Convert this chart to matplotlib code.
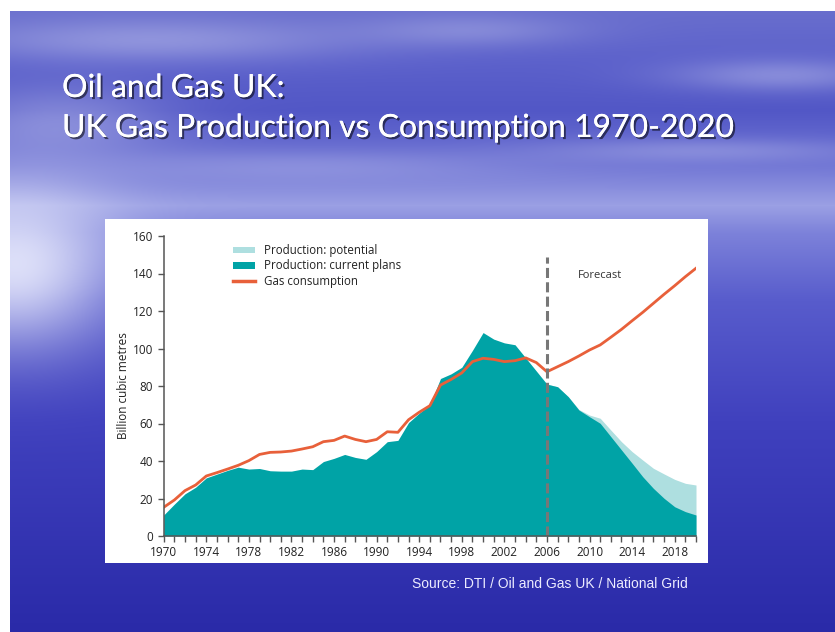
import numpy as np
import matplotlib
matplotlib.use("Agg")
import matplotlib.pyplot as plt
import matplotlib.patheffects as pe
from matplotlib.patches import Patch
from matplotlib.lines import Line2D
from matplotlib.ticker import MultipleLocator

years = list(range(1970, 2021))

production_current = [
    11.2, 17.0, 22.5, 26.0, 31.0, 33.0, 35.0, 36.7, 35.7, 36.0,
    34.8, 34.6, 34.6, 35.7, 35.4, 39.7, 41.4, 43.5, 41.9, 40.9,
    45.0, 50.3, 51.0, 60.5, 65.5, 70.0, 84.0, 86.5, 90.0, 99.0,
    108.5, 105.0, 103.0, 102.0, 95.0, 88.0, 81.0, 79.6, 74.3, 67.2,
    63.6, 60.1, 53.0, 45.9, 38.8, 31.6, 25.4, 20.1, 15.6, 13.0,
    11.2,
]

potential_years = list(range(2006, 2021))
production_potential = [
    81.0, 79.6, 74.3, 67.5, 64.5, 62.8, 56.5, 50.3, 45.0, 40.5,
    36.1, 33.1, 30.2, 28.1, 27.2,
]

consumption = [
    15.3, 19.2, 24.2, 27.2, 32.0, 33.8, 35.7, 37.7, 40.2, 43.5,
    44.6, 44.8, 45.3, 46.4, 47.6, 50.3, 51.0, 53.3, 51.5, 50.3,
    51.5, 55.6, 55.3, 62.0, 66.0, 69.5, 80.5, 83.5, 87.0, 93.0,
    94.8, 94.2, 93.0, 93.5, 95.0, 92.5, 87.6, 90.3, 93.0, 96.0,
    99.2, 101.9, 106.0, 110.2, 114.8, 119.3, 124.1, 128.9, 133.5, 138.3,
    142.8,
]

forecast_year = 2006
label_years = list(range(1970, 2021, 4))

W, H = 835, 632
fig = plt.figure(figsize=(W / 100, H / 100), dpi=100)
fig.patch.set_facecolor("white")

# slide background (sky over sea)
bx0, by0 = 10, 11
bw, bh = W - bx0, H - by0
yy, xx = np.mgrid[by0:H, bx0:W].astype(float)
knots_y = [11, 60, 110, 165, 205, 232, 300, 420, 632]
knots_c = np.array([
    [105, 110, 205], [92, 97, 203], [82, 87, 198], [112, 117, 212],
    [155, 160, 228], [125, 130, 218], [88, 92, 204], [64, 65, 190],
    [42, 42, 168],
])
img = np.zeros((bh, bw, 3))
for k in range(3):
    img[..., k] = np.interp(yy, knots_y, knots_c[:, k])
glows = [
    (15, 265, 100, 80, 0.85),
    (150, 40, 200, 22, 0.32),
    (470, 30, 110, 16, 0.22),
    (780, 75, 110, 16, 0.30),
    (700, 150, 160, 12, 0.22),
    (300, 165, 220, 15, 0.20),
    (60, 120, 110, 35, 0.30),
]
for gx, gy, sx, sy, a in glows:
    g = a * np.exp(-((xx - gx) / sx) ** 2 - ((yy - gy) / sy) ** 2)
    img = img + (np.array([240, 242, 255]) - img) * g[..., None]
bg = fig.add_axes([bx0 / W, 0, bw / W, bh / H])
bg.imshow(img / 255.0, aspect="auto", interpolation="bilinear")
bg.axis("off")

# title
shadow = [pe.withSimplePatchShadow(offset=(1.5, -1.5), shadow_rgbFace="black", alpha=0.55), pe.Normal()]
fig.text(62 / W, 1 - 97 / H, "Oil and Gas UK:", color="white", fontsize=23,
         family="Lato", va="baseline", path_effects=shadow)
fig.text(62 / W, 1 - 137 / H, "UK Gas Production vs Consumption 1970-2020", color="white",
         fontsize=23, family="Lato", va="baseline", path_effects=shadow)

fig.text(412 / W, 1 - 584 / H, "Source: DTI / Oil and Gas UK / National Grid",
         color="#ECECFF", fontsize=10, family="Liberation Sans", va="center")

# white panel holding the chart
panel = fig.add_axes([105 / W, 1 - 563 / H, 603 / W, 344 / H])
panel.set_facecolor("white")
panel.set_xticks([])
panel.set_yticks([])
for s in panel.spines.values():
    s.set_visible(False)

ax = fig.add_axes([163.7 / W, 1 - 536 / H, (696 - 163.7) / W, 300 / H])
ax.patch.set_alpha(0)

teal = "#00A3A6"
light = "#AEDFE0"
orange = "#E8603A"
font = "Open Sans"

ax.fill_between(potential_years, 0, production_potential, color=light, lw=0)
ax.fill_between(years, 0, production_current, color=teal, lw=0)
ax.plot(years, consumption, color=orange, lw=2)
ax.vlines(forecast_year, 0, 149, color="#777777", lw=2.2, linestyles=(0, (3.3, 1.4)))
ax.text(2008.9, 139, "Forecast", fontsize=8, family=font, color="#333333", va="center")

ax.set_xlim(1970, 2020)
ax.set_ylim(0, 160)
ax.set_xticks(label_years)
ax.xaxis.set_minor_locator(MultipleLocator(1))
ax.yaxis.set_major_locator(MultipleLocator(20))
for s in ("top", "right"):
    ax.spines[s].set_visible(False)
for s in ("left", "bottom"):
    ax.spines[s].set_color("#555555")
    ax.spines[s].set_linewidth(1.1)
ax.tick_params(which="both", direction="out", length=4, width=1, color="#555555",
               labelsize=8.5, labelcolor="#222222")
for lab in ax.get_xticklabels() + ax.get_yticklabels():
    lab.set_family(font)
ax.set_ylabel("Billion cubic metres", fontsize=8.5, family=font, color="#222222", labelpad=2)

handles = [
    Patch(facecolor=light, edgecolor="none"),
    Patch(facecolor=teal, edgecolor="none"),
    Line2D([], [], color=orange, lw=2.5),
]
labels = ["Production: potential", "Production: current plans", "Gas consumption"]
leg = ax.legend(handles, labels, loc="upper left", bbox_to_anchor=(0.115, 1.0), frameon=False,
                prop={"family": font, "size": 8.3}, handlelength=1.9, handleheight=0.5,
                labelspacing=0.2, handletextpad=0.8, borderpad=0.2)
for t in leg.get_texts():
    t.set_color("#222222")

fig.savefig("out.png", dpi=100)
